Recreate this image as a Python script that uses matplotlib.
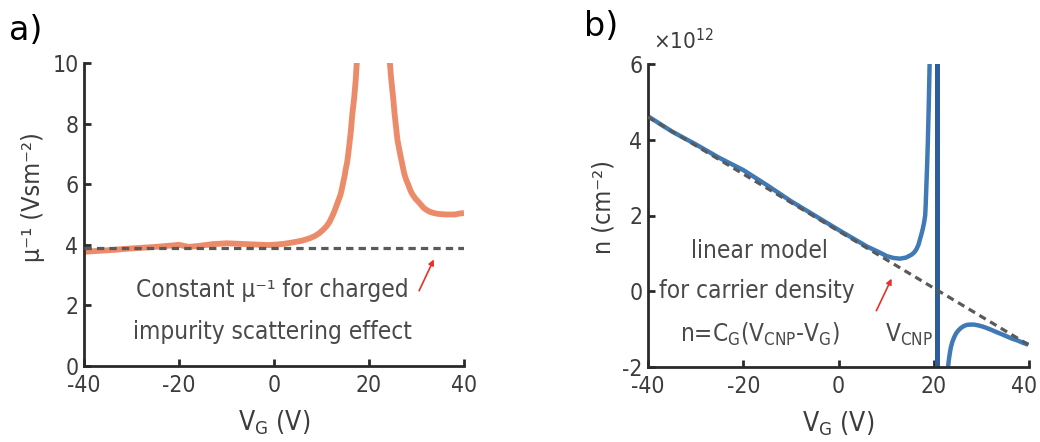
import numpy as np
import matplotlib
matplotlib.use('Agg')
import matplotlib.pyplot as plt
import matplotlib.transforms as mtrans

# narrow look: condensed DejaVu
plt.rcParams['font.family'] = ['DejaVu Sans']
plt.rcParams['font.stretch'] = 'condensed'
plt.rcParams['mathtext.default'] = 'regular'
plt.rcParams['axes.unicode_minus'] = False

# ---- data ----
# a) inverse mobility vs gate voltage (two branches around the peak)
vg_a_left = [-40, -37, -34, -31, -28, -25, -22, -20, -18, -16, -13, -10, -7, -4, -1, 2,
             4, 6, 7.6, 8.6, 9.5, 10.3, 11.1, 11.7, 12.2, 12.7, 13.2, 13.6, 14.0, 14.3,
             14.6, 14.9, 15.1, 15.4, 15.6, 15.8, 16.0, 16.2, 16.35, 16.5, 16.7, 16.9,
             17.05, 17.2, 17.3, 17.45, 17.6]
mu_a_left = [3.77, 3.80, 3.83, 3.87, 3.90, 3.93, 3.97, 4.00, 3.93, 3.96, 4.02, 4.05, 4.03,
             4.01, 3.99, 4.03, 4.08, 4.14, 4.22, 4.29, 4.38, 4.49, 4.62, 4.76, 4.92, 5.10,
             5.31, 5.48, 5.65, 5.85, 6.08, 6.30, 6.50, 6.72, 6.96, 7.22, 7.50, 7.78, 8.06,
             8.33, 8.60, 8.88, 9.16, 9.43, 9.70, 10.05, 10.4]
vg_a_right = [24.2, 24.4, 24.6, 24.85, 25.1, 25.4, 25.8, 26.0, 26.3, 26.6, 26.9, 27.2, 27.5,
              27.9, 28.3, 28.7, 29.2, 29.8, 30.4, 31.0, 31.5, 32.1, 32.8, 33.6, 34.5, 35.4,
              36.3, 37.1, 38.0, 39.0, 40.0]
mu_a_right = [10.4, 10.0, 9.6, 9.2, 8.83, 8.3, 7.73, 7.45, 7.2, 6.96, 6.74, 6.51, 6.30,
              6.12, 5.97, 5.80, 5.65, 5.52, 5.42, 5.31, 5.22, 5.15, 5.09, 5.05, 5.02, 5.01,
              5.00, 5.00, 5.00, 5.03, 5.05]
mu_const = 3.88

# b) carrier density vs gate voltage
vg_b_left = [-40, -35, -30, -25, -20, -15, -10, -5, 0, 3, 6, 8.7, 10.1, 11.5, 12.9, 14.2,
             15.4, 16.0, 16.4, 16.8, 17.1, 17.4, 17.7, 17.95, 18.2, 18.3, 18.4, 18.5,
             18.6, 18.75, 18.85, 18.95, 19.05, 19.15, 19.25]
n_b_left = [4.62, 4.22, 3.88, 3.52, 3.20, 2.80, 2.38, 2.00, 1.62, 1.40, 1.18, 1.02, 0.93,
            0.88, 0.86, 0.89, 0.97, 1.04, 1.12, 1.23, 1.37, 1.50, 1.65, 1.80, 2.00, 2.25,
            2.6, 2.95, 3.3, 3.9, 4.4, 4.9, 5.5, 6.1, 6.6]
vg_b_right = [22.95, 23.05, 23.15, 23.3, 23.45, 23.6, 23.9, 24.3, 24.7, 25.2, 25.7, 26.3,
              26.9, 27.6, 28.4, 29.3, 30.2, 31.1, 32.1, 33.2, 34.2, 35.3, 36.4, 37.6, 38.7,
              39.85]
n_b_right = [-2.1, -1.95, -1.83, -1.70, -1.58, -1.48, -1.34, -1.21, -1.11, -1.03, -0.97,
             -0.92, -0.89, -0.88, -0.88, -0.90, -0.93, -0.97, -1.02, -1.08, -1.13, -1.19,
             -1.25, -1.30, -1.36, -1.41]
v_cnp = 20.75
lin_vg = [-40, 40]
lin_n = [4.6, -1.42]

ticks_x = [-40, -20, 0, 20, 40]

orange = '#ec8b69'
blue = '#3f7ab6'
dark_blue = '#2c5d9c'
dash_c = '#5a5a5a'
txt_c = '#4a4a4a'
red = '#e8302a'

fig = plt.figure(figsize=(10.4, 4.42), dpi=100)
ax_a = fig.add_axes([84/1040, 76/442, 380/1040, 303/442])
ax_b = fig.add_axes([648/1040, 75/442, 381/1040, 303/442])

for ax in (ax_a, ax_b):
    for s in ('top', 'right'):
        ax.spines[s].set_visible(False)
    for s in ('left', 'bottom'):
        ax.spines[s].set_linewidth(2.0)
        ax.spines[s].set_color('#2a2a2a')
    ax.tick_params(direction='in', length=5, width=2.0, color='#2a2a2a',
                   labelsize=16.5, labelcolor='#3c3c3c')
    ax.tick_params(axis='x', pad=6)
    ax.tick_params(axis='y', pad=4)
    ax.set_xlim(-40, 40)
    ax.set_xticks(ticks_x)
    ax.set_xticklabels([str(t) for t in ticks_x])
    ax.set_xlabel('V$_{G}$ (V)', fontsize=19, color='#3c3c3c', labelpad=8)

# ---- panel a ----
ax_a.plot(vg_a_left, mu_a_left, color=orange, lw=4.2, solid_capstyle='butt')
ax_a.plot(vg_a_right, mu_a_right, color=orange, lw=4.2, solid_capstyle='butt')
ax_a.axhline(mu_const, color=dash_c, lw=2.3, ls=(0, (2.3, 1.6)), zorder=3)
ax_a.set_ylim(0, 10)
ax_a.set_yticks([0, 2, 4, 6, 8, 10])
ax_a.text(-0.4, 2.5, 'Constant μ⁻¹ for charged', ha='center', va='center',
          fontsize=17.5, color=txt_c)
ax_a.text(-0.4, 1.12, 'impurity scattering effect', ha='center', va='center',
          fontsize=17.5, color=txt_c)
ax_a.annotate('', xy=(33.9, 3.6), xytext=(30.3, 2.4),
              arrowprops=dict(arrowstyle='-|>', color=red, lw=1.2, mutation_scale=8))
fig.text(33/1040, 1 - 197/442, 'μ⁻¹ (Vsm⁻²)', rotation=90, ha='center', va='center',
         fontsize=18, color='#3c3c3c')
fig.text(26/1040, 1 - 30/442, 'a)', ha='center', va='center', fontsize=24,
         stretch='normal')

# ---- panel b ----
ax_b.plot(vg_b_left, n_b_left, color=blue, lw=3.2, solid_capstyle='butt')
ax_b.plot(vg_b_right, n_b_right, color=blue, lw=3.2, solid_capstyle='butt')
ax_b.axvline(v_cnp, color=dark_blue, lw=3.6)
ax_b.plot(lin_vg, lin_n, color=dash_c, lw=2.3, ls=(0, (2.3, 1.6)), zorder=3)
ax_b.set_ylim(-2, 6)
ax_b.set_yticks([-2, 0, 2, 4, 6])
ax_b.text(-16.5, 1.06, 'linear model', ha='center', va='center', fontsize=17.5, color=txt_c)
ax_b.text(-17.1, 0.0, 'for carrier density', ha='center', va='center', fontsize=17.5,
          color=txt_c)
ax_b.text(-16.5, -1.14, 'n=C$_{G}$(V$_{CNP}$-V$_{G}$)', ha='center', va='center',
          fontsize=17.5, color=txt_c)
ax_b.text(9.8, -1.14, 'V$_{CNP}$', ha='left', va='center', fontsize=17.5, color=txt_c)
ax_b.annotate('', xy=(11.4, 0.40), xytext=(7.7, -0.58),
              arrowprops=dict(arrowstyle='-|>', color=red, lw=1.2, mutation_scale=8))
fig.text(603/1040, 1 - 207/442, 'n (cm⁻²)', rotation=90, ha='center', va='center',
         fontsize=18, color='#3c3c3c')
fig.text(601/1040, 1 - 27/442, 'b)', ha='center', va='center', fontsize=24,
         stretch='normal')
fig.text(653/1040, 1 - 41/442, '×10$^{12}$', ha='left', va='center', fontsize=16,
         color='#3c3c3c')

# last x label on panel b sits a little left so it stays inside the figure
last = ax_b.get_xticklabels()[-1]
last.set_ha('right')
last.set_transform(last.get_transform() +
                   mtrans.ScaledTranslation(8/100, 0, fig.dpi_scale_trans))

fig.savefig('out.png', dpi=100)
